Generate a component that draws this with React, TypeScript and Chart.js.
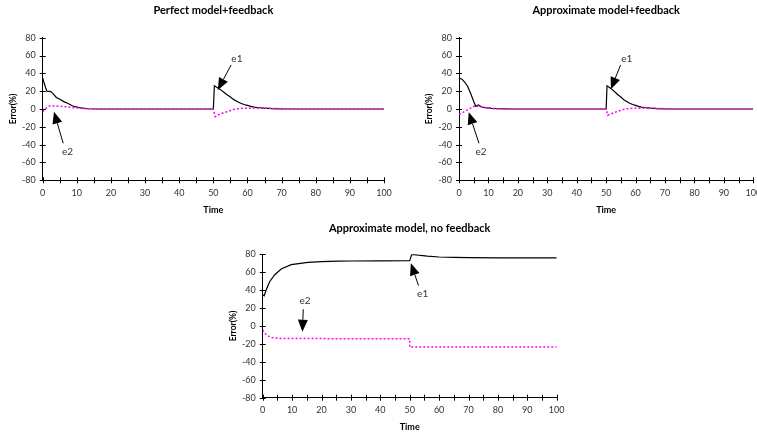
import React, { useEffect, useRef } from 'react';
import { Chart, registerables } from 'chart.js';

Chart.register(...registerables);

const FONT = 'Lato, "DejaVu Sans", sans-serif';

// ---------- Data (time, error %) ----------
// Perfect model + feedback
const perfectE1Time = [0, 0.5, 1.2, 2.4, 3.1, 4, 5, 6.3, 7.3, 8.8, 10.7, 13.2, 16, 30, 50, 50.3, 51, 52, 53, 54, 55, 56, 57, 58, 59, 60, 61, 62, 63, 65, 67, 70, 100];
const perfectE1 = [35, 28, 20, 19.5, 17, 13, 11, 8, 6.4, 3.4, 1.5, 0.3, 0, 0, 0, 26, 24.5, 22, 19, 16, 13.5, 10.5, 8.5, 6.5, 5, 4, 3, 2.2, 1.7, 0.9, 0.4, 0, 0];
const perfectE2Time = [0, 1, 2, 3, 5, 7, 9, 12, 15, 50, 50.5, 52, 54, 56.4, 58.8, 62, 66, 75, 100];
const perfectE2 = [-3, 1, 3.5, 3.5, 3, 2.5, 1.5, 0.5, 0, 0, -8.5, -5.5, -3, 0, 0.8, 1, 0.8, 0, 0];

// Approximate model + feedback
const approxE1Time = [0, 1, 2, 3, 4, 5, 5.7, 6.6, 7.7, 9, 11.1, 13.4, 18, 30, 50, 50.3, 51, 52, 53, 54, 55, 56, 57, 58, 59, 60, 61, 62, 63, 65, 67, 70, 100];
const approxE1 = [35, 33.5, 30, 25, 17, 8.5, 3, 4.5, 2.2, 1.5, 0.8, 0.4, 0, 0, 0, 26, 24.5, 22, 19, 16, 13.5, 10.5, 8.5, 6.5, 5, 4, 3, 2.2, 1.7, 0.9, 0.4, 0, 0];
const approxE2Time = [0, 1, 2, 3.2, 4.3, 5.4, 6.6, 8, 10, 12, 15, 50, 50.5, 52, 54, 56.4, 58.8, 62, 66, 75, 100];
const approxE2 = [-6, -4.5, -2.5, -0.3, 1.5, 3.7, 3, 2, 1, 0.5, 0, 0, -7, -5, -2.5, 0, 0.8, 1, 0.8, 0, 0];

// Approximate model, no feedback
const noFbE1Time = [0, 0.5, 1.2, 2.4, 4.1, 6.3, 9.7, 15.4, 20, 25.6, 30, 40, 50, 50.7, 53, 56, 60, 65, 70, 80, 100];
const noFbE1 = [34.8, 33.7, 40.4, 49.7, 57.2, 63.6, 68.4, 71, 71.8, 72.3, 72.5, 72.7, 73, 80, 79, 78, 77, 76.5, 76.2, 76, 76];
const noFbE2Time = [0, 1.2, 2.9, 5.2, 10, 50, 50, 100];
const noFbE2 = [-4.5, -10, -12.7, -13.8, -14, -14.3, -23.5, -23.5];

// Axis ranges
const xMin = 0, xMax = 100, xStep = 5, xLabelEvery = 10;
const yMin = -80, yMax = 80, yStep = 20;

// Arrow annotations in data units
const perfectArrows = [
  { label: 'e1', lx: 56.9, ly: 56.9, fx: 55.2, fy: 49.4, tx: 51.3, ty: 21.3 },
  { label: 'e2', lx: 7.3, ly: -47.9, fx: 6.0, fy: -38.5, tx: 3.3, ty: -3 },
];
const approxArrows = [
  { label: 'e1', lx: 57.0, ly: 56.9, fx: 54.9, fy: 49.4, tx: 51.6, ty: 22.1 },
  { label: 'e2', lx: 7.5, ly: -47.9, fx: 6.8, fy: -38.5, tx: 3.3, ty: -3.7 },
];
const noFbArrows = [
  { label: 'e1', lx: 54.4, ly: 36.5, fx: 53.0, fy: 45, tx: 50.4, ty: 70 },
  { label: 'e2', lx: 14.4, ly: 28, fx: 13.8, fy: 18.7, tx: 13.5, ty: -6.4 },
];

const pts = (t: number[], v: number[]) => t.map((x, i) => ({ x, y: v[i] }));

const decorPlugin = {
  id: 'decor',
  afterDraw(chart: any, _args: any, opts: any) {
    const { ctx, chartArea, scales } = chart;
    const xs = scales.x;
    const ys = scales.y;
    ctx.save();
    ctx.strokeStyle = '#000';
    ctx.lineWidth = 1;
    ctx.beginPath();
    xs.ticks.forEach((t: any) => {
      const px = Math.round(xs.getPixelForValue(t.value)) + 0.5;
      ctx.moveTo(px, chartArea.bottom - 3);
      ctx.lineTo(px, chartArea.bottom + 3);
    });
    ys.ticks.forEach((t: any) => {
      const py = Math.round(ys.getPixelForValue(t.value)) + 0.5;
      ctx.moveTo(chartArea.left - 3, py);
      ctx.lineTo(chartArea.left + 3, py);
    });
    ctx.stroke();

    ctx.fillStyle = '#000';
    ctx.font = `bold 11px ${FONT}`;
    ctx.textAlign = 'center';
    ctx.textBaseline = 'middle';
    ctx.fillText(opts.title, (chartArea.left + chartArea.right) / 2, chartArea.top - opts.titleOffset);

    for (const a of opts.arrows || []) {
      const sx = xs.getPixelForValue(a.fx), sy = ys.getPixelForValue(a.fy);
      const tx = xs.getPixelForValue(a.tx), ty = ys.getPixelForValue(a.ty);
      const ang = Math.atan2(ty - sy, tx - sx);
      const L = 12, W = 5;
      const bx = tx - L * Math.cos(ang), by = ty - L * Math.sin(ang);
      ctx.beginPath();
      ctx.moveTo(sx, sy);
      ctx.lineTo(bx, by);
      ctx.lineWidth = 1;
      ctx.strokeStyle = '#000';
      ctx.stroke();
      ctx.beginPath();
      ctx.moveTo(tx, ty);
      ctx.lineTo(bx + W * Math.sin(ang), by - W * Math.cos(ang));
      ctx.lineTo(bx - W * Math.sin(ang), by + W * Math.cos(ang));
      ctx.closePath();
      ctx.fillStyle = '#000';
      ctx.fill();
      ctx.font = `10px ${FONT}`;
      ctx.fillStyle = '#333';
      ctx.fillText(a.label, xs.getPixelForValue(a.lx), ys.getPixelForValue(a.ly));
    }
    ctx.restore();
  },
};

type Panel = {
  left: number; top: number; width: number; height: number;
  padLeft: number; padRight: number; padTop: number; padBottom: number; yWidth: number; xHeight: number;
  title: string; titleOffset: number;
  e1t: number[]; e1: number[]; e2t: number[]; e2: number[];
  arrows: any[];
};

const panels: Panel[] = [
  { left: 0, top: 0, width: 395, height: 215, padLeft: 0, padRight: 11, padTop: 37.7, padBottom: 0, yWidth: 42.7, xHeight: 34.7,
    title: 'Perfect model+feedback', titleOffset: 27,
    e1t: perfectE1Time, e1: perfectE1, e2t: perfectE2Time, e2: perfectE2, arrows: perfectArrows },
  { left: 380, top: 0, width: 395, height: 215, padLeft: 36.3, padRight: 21.7, padTop: 37.7, padBottom: 0, yWidth: 42.7, xHeight: 34.7,
    title: 'Approximate model+feedback', titleOffset: 27,
    e1t: approxE1Time, e1: approxE1, e2t: approxE2Time, e2: approxE2, arrows: approxArrows },
  { left: 220, top: 215, width: 350, height: 220, padLeft: 0, padRight: 13.3, padTop: 39.3, padBottom: 3, yWidth: 42.7, xHeight: 34.3,
    title: 'Approximate model, no feedback', titleOffset: 26,
    e1t: noFbE1Time, e1: noFbE1, e2t: noFbE2Time, e2: noFbE2, arrows: noFbArrows },
];

function PanelChart({ p }: { p: Panel }) {
  const ref = useRef<HTMLCanvasElement>(null);
  useEffect(() => {
    if (!ref.current) return;
    const chart = new Chart(ref.current, {
      type: 'line',
      data: {
        datasets: [
          { label: 'e1', data: pts(p.e1t, p.e1), borderColor: '#000', borderWidth: 1.2, pointRadius: 0, tension: 0, fill: false, order: 2 },
          { label: 'e2', data: pts(p.e2t, p.e2), borderColor: '#ff00ff', borderWidth: 1.5, borderDash: [2, 2], pointRadius: 0, tension: 0, fill: false, order: 1 },
        ],
      },
      options: {
        animation: false,
        responsive: false,
        devicePixelRatio: 1,
        parsing: false,
        layout: { padding: { left: p.padLeft, right: p.padRight, top: p.padTop, bottom: p.padBottom } },
        plugins: {
          legend: { display: false },
          tooltip: { enabled: false },
          title: { display: false },
          decor: { title: p.title, titleOffset: p.titleOffset, arrows: p.arrows },
        } as any,
        scales: {
          x: {
            type: 'linear', min: xMin, max: xMax,
            grid: { display: false, drawOnChartArea: false, drawTicks: true, tickLength: 7, color: 'rgba(0,0,0,0)' },
            border: { display: true, color: '#000', width: 1 },
            ticks: {
              stepSize: xStep, autoSkip: false, maxRotation: 0, padding: 0, color: '#333',
              font: { family: FONT, size: 9 },
              callback: (v: any) => (Number(v) % xLabelEvery === 0 ? String(v) : ''),
            },
            title: { display: true, text: 'Time', color: '#000', font: { family: FONT, size: 9, weight: 'bold' }, padding: 0 },
            afterFit: (s: any) => { s.height = p.xHeight; },
          },
          y: {
            type: 'linear', min: yMin, max: yMax,
            grid: { display: false, drawTicks: false },
            border: { display: true, color: '#000', width: 1 },
            ticks: { stepSize: yStep, padding: 7, color: '#333', font: { family: FONT, size: 9 } },
            title: { display: true, text: 'Error(%)', color: '#000', font: { family: FONT, size: 8.5, weight: 'bold' }, padding: { top: 8, bottom: 0 } },
            afterFit: (s: any) => { s.width = p.yWidth; },
          },
        },
      } as any,
      plugins: [decorPlugin],
    });
    return () => chart.destroy();
  }, [p]);
  return (
    <canvas
      ref={ref}
      width={p.width}
      height={p.height}
      style={{ position: 'absolute', left: p.left, top: p.top, width: p.width, height: p.height }}
    />
  );
}

export default function App() {
  return (
    <div style={{ position: 'fixed', left: 0, top: 0, width: 757, height: 435, overflow: 'hidden', background: '#fff' }}>
      {panels.map((p, i) => <PanelChart key={i} p={p} />)}
    </div>
  );
}
